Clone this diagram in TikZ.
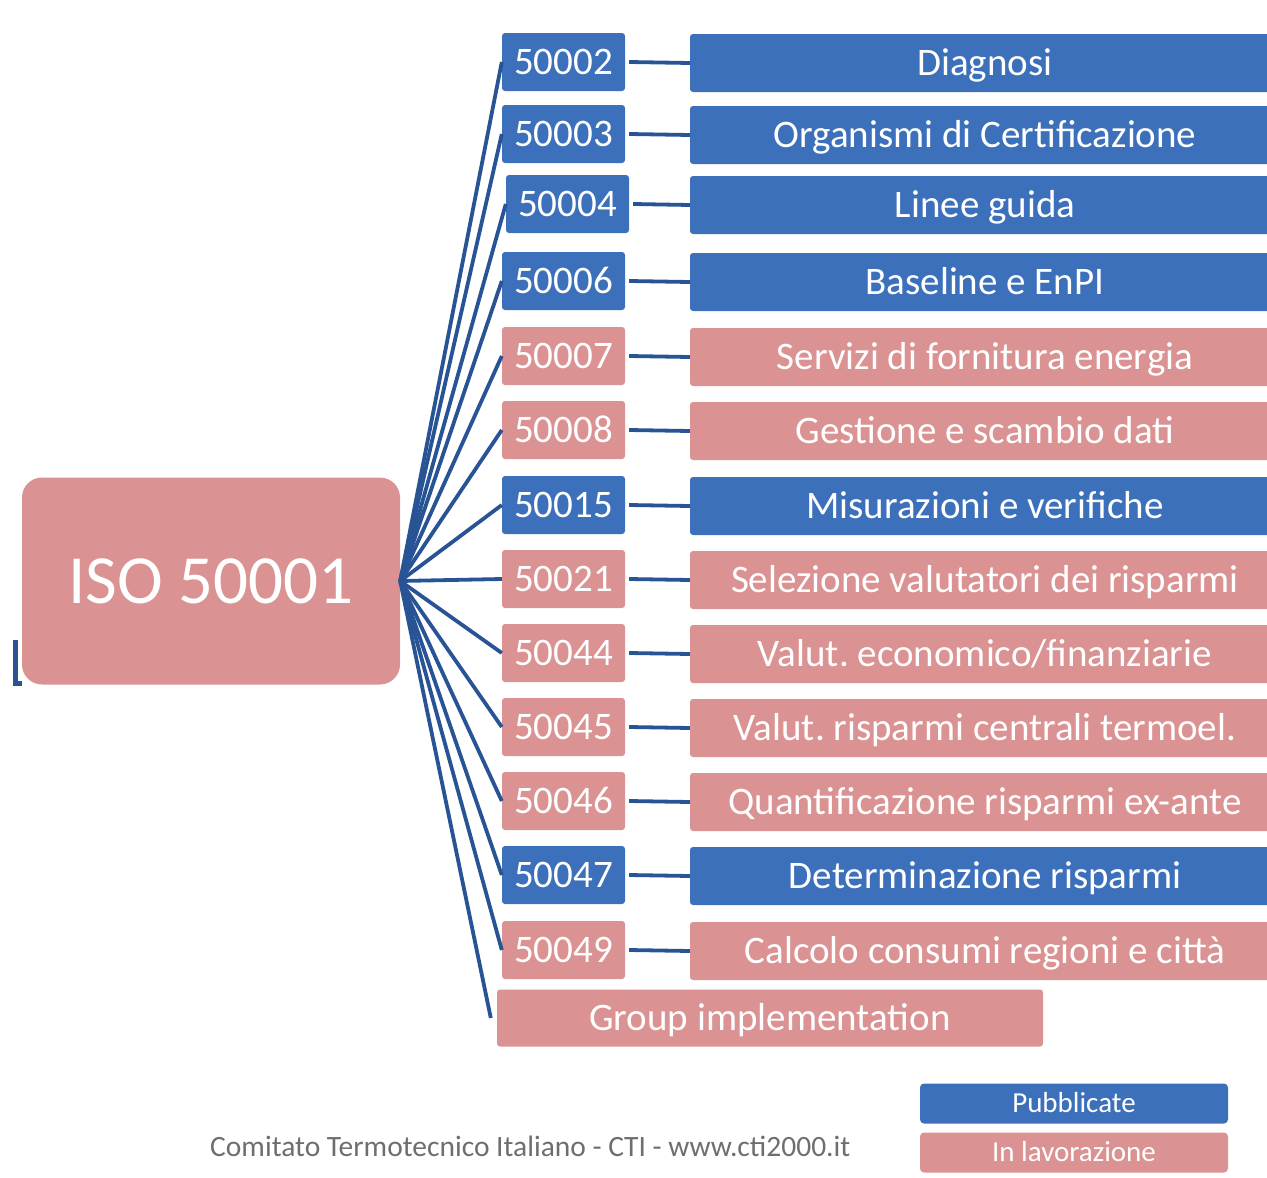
\documentclass[tikz,border=0pt]{standalone}
\usepackage{fontspec}
\setmainfont{Carlito}
\definecolor{bbox}{RGB}{61,112,186}
\definecolor{pbox}{RGB}{219,146,146}
\definecolor{fan}{RGB}{40,84,150}
\definecolor{foot}{RGB}{110,110,110}
\tikzset{
  code/.style={rounded corners=3pt, minimum width=123pt, minimum height=58pt, inner sep=0pt, text=white, font=\fontsize{39}{42}\selectfont, text height=25pt, text depth=0pt},
  desc/.style={rounded corners=3pt, minimum width=590pt, minimum height=58pt, inner sep=0pt, text=white, font=\fontsize{39}{42}\selectfont, text height=25pt, text depth=0pt},
  link/.style={draw=fan, line width=3.8pt},
  leg/.style={rounded corners=4pt, minimum width=308pt, minimum height=40pt, inner sep=0pt, text=white, font=\fontsize{29}{32}\selectfont, text height=18.6pt, text depth=0pt},
}
\begin{document}
\frenchspacing
\begin{tikzpicture}[x=1pt,y=-1pt]
\useasboundingbox (0,0) rectangle (1267,1178);
% left artifact
\draw[fan, line width=5pt] (15,640) -- (15,683) -- (22,683);
\node[fill=pbox, rounded corners=20pt, minimum width=378pt, minimum height=207pt, inner sep=0pt, text=white, font=\fontsize{69}{72}\selectfont, text height=44pt, text depth=0pt] (main) at (211,581) {ISO 50001};
\foreach \i/\y/\cx/\col/\num/\txt in {
 1/62/563.5/bbox/50002/{Diagnosi},
 2/134/563.5/bbox/50003/{Organismi di Certificazione},
 3/204/567.5/bbox/50004/{Linee guida},
 4/281/563.5/bbox/50006/{Baseline e EnPI},
 5/356/563.5/pbox/50007/{Servizi di fornitura energia},
 6/430/563.5/pbox/50008/{Gestione e scambio dati},
 7/505/563.5/bbox/50015/{Misurazioni e verifiche},
 8/579/563.5/pbox/50021/{Selezione valutatori dei risparmi},
 9/653/563.5/pbox/50044/{Valut. economico/finanziarie},
 10/727/563.5/pbox/50045/{Valut. risparmi centrali termoel.},
 11/801/563.5/pbox/50046/{Quantificazione risparmi ex-ante},
 12/875/563.5/bbox/50047/{Determinazione risparmi},
 13/950/563.5/pbox/50049/{Calcolo consumi regioni e città}}{
  \node[code, fill=\col] (c\i) at (\cx,\y) {\num};
  \node[desc, fill=\col] (d\i) at (985,\y+1) {\txt};
  \draw[link] (c\i.east) ++(4pt,0) -- (d\i.west);
  \draw[link] (main.east) -- (c\i.west);
}
\node[fill=pbox, rounded corners=3pt, minimum width=546pt, minimum height=57pt, inner sep=0pt, text=white, font=\fontsize{39}{42}\selectfont, text height=25pt, text depth=0pt] (grp) at (770,1018) {Group implementation};
\draw[link] (main.east) -- ([xshift=-6pt]grp.west);
\node[leg, fill=bbox] (pub) at (1074,1103.5) {Pubblicate};
\node[leg, fill=pbox] (lav) at (1074,1152.5) {In lavorazione};
\node[text=foot, font=\fontsize{29.5}{32}\selectfont, anchor=west, inner sep=0pt, text height=19pt, text depth=0pt] (footer) at (210,1147) {Comitato Termotecnico Italiano - CTI - www.cti2000.it};
\end{tikzpicture}
\end{document}
